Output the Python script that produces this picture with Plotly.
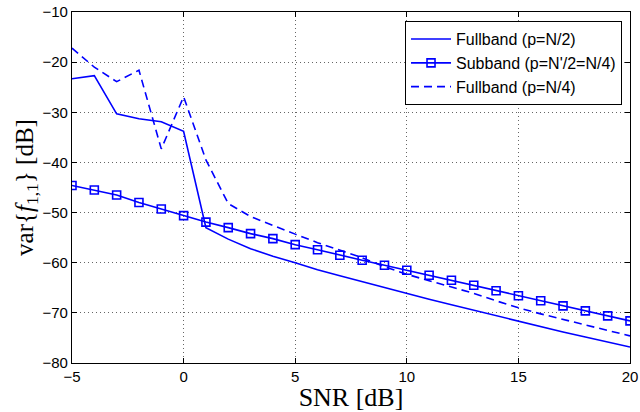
import plotly.graph_objects as go

snr = list(range(-5, 21))

fullband_half = [-23.3, -22.7, -30.3, -31.3, -31.9, -33.8, -53.0, -55.3, -57.2, -58.7,
                 -60.0, -61.4, -62.6, -63.8, -65.0, -66.2, -67.3, -68.4, -69.5, -70.6,
                 -71.7, -72.7, -73.8, -74.8, -75.8, -76.8]
subband = [-44.6, -45.5, -46.5, -48.0, -49.3, -50.6, -51.9, -53.0, -54.2, -55.2,
           -56.4, -57.4, -58.5, -59.5, -60.5, -61.5, -62.5, -63.5, -64.5, -65.6,
           -66.6, -67.6, -68.6, -69.6, -70.6, -71.6]
fullband_quarter = [-17.2, -21.0, -23.9, -21.6, -37.3, -26.9, -39.5, -48.2, -50.8, -52.6,
                    -54.3, -56.0, -57.5, -59.0, -60.8, -62.3, -63.6, -64.9, -66.1, -67.6,
                    -69.0, -70.2, -71.3, -72.4, -73.5, -74.6]

names = ["Fullband (p=N/2)", "Subband (p=N'/2=N/4)", "Fullband (p=N/4)"]
blue = "#0000FF"

fig = go.Figure()
fig.add_trace(go.Scatter(x=snr, y=fullband_half, mode="lines", name=names[0],
                         line=dict(color=blue, width=1.6)))
fig.add_trace(go.Scatter(x=snr, y=subband, mode="lines+markers", name=names[1],
                         line=dict(color=blue, width=1.6),
                         marker=dict(symbol="square-open", size=8, color=blue,
                                     line=dict(width=1.6, color=blue))))
fig.add_trace(go.Scatter(x=snr, y=fullband_quarter, mode="lines", name=names[2],
                         line=dict(color=blue, width=1.6, dash="8px,5px")))

axis_common = dict(
    showline=True, linecolor="black", linewidth=1.2, mirror="ticks",
    ticks="inside", ticklen=5, tickcolor="black",
    showgrid=True, gridcolor="#666666", gridwidth=1, griddash="1px,3px",
    zeroline=False, automargin=False,
    tickfont=dict(family="Liberation Sans, Arial", size=15, color="black"),
)

fig.update_layout(
    width=640, height=412,
    margin=dict(l=72, r=10, t=12, b=49),
    paper_bgcolor="white", plot_bgcolor="white",
    showlegend=True,
    legend=dict(x=0.9857, y=0.974, xanchor="right", yanchor="top",
                bgcolor="white", bordercolor="black", borderwidth=1,
                font=dict(family="Liberation Sans, Arial", size=16, color="black"),
                itemwidth=40, tracegroupgap=0),
    xaxis=dict(range=[-5, 20], tickvals=[-5, 0, 5, 10, 15, 20],
               title=dict(text="SNR [dB]", standoff=0,
                          font=dict(family="Liberation Serif, Times New Roman", size=26, color="black")),
               **axis_common),
    yaxis=dict(range=[-80, -10], tickvals=[-80, -70, -60, -50, -40, -30, -20, -10],
               title=dict(text="var{<i>f</i><sub>1,1</sub>} [dB]", standoff=0,
                          font=dict(family="Liberation Serif, Times New Roman", size=25, color="black")),
               **axis_common),
)

fig.write_html("out.html", config={"displayModeBar": False},
               post_script="document.body.style.margin='0';")
